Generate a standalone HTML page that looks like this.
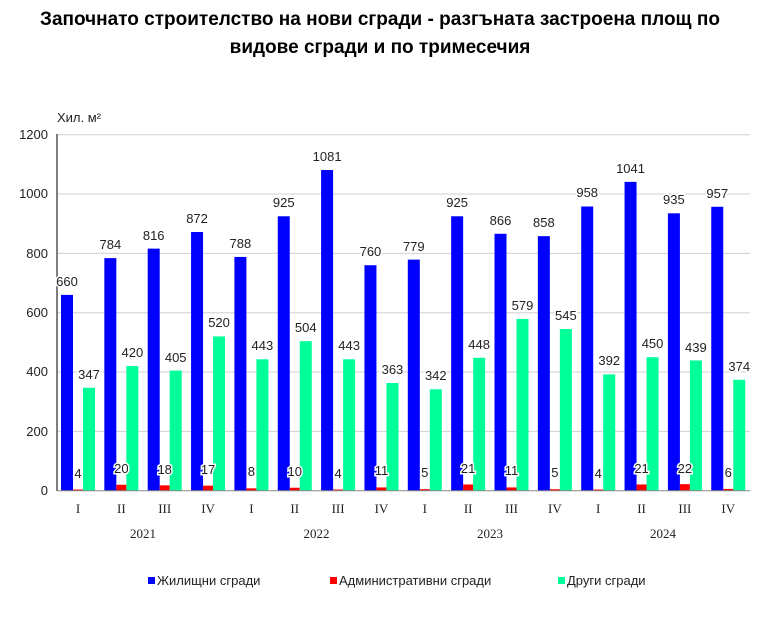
<!DOCTYPE html>
<html><head><meta charset="utf-8"><style>
body{margin:0;background:#fff;width:768px;height:629px;overflow:hidden}
svg{display:block}
.t{font-family:"Liberation Sans",sans-serif;font-weight:bold;font-size:19px;fill:#000}
.l{font-family:"Liberation Sans",sans-serif;font-size:13px;fill:#222}
.d{font-family:"Liberation Sans",sans-serif;font-size:13px;fill:#222;text-anchor:middle;paint-order:stroke;stroke:#fff;stroke-width:3px}
.q{font-family:"Liberation Serif",serif;font-size:13px;fill:#222;text-anchor:middle}
</style></head><body>
<svg width="768" height="629" xmlns="http://www.w3.org/2000/svg">
<text class="t" x="380" y="25" text-anchor="middle">Започнато строителство на нови сгради - разгъната застроена площ по</text>
<text class="t" x="380" y="53" text-anchor="middle">видове сгради и по тримесечия</text>
<text class="l" x="57" y="122">Хил. м²</text>
<g stroke="#d0d0d0" stroke-width="1">
<line x1="57" x2="750" y1="134.7" y2="134.7"/><line x1="57" x2="750" y1="194" y2="194"/><line x1="57" x2="750" y1="253.4" y2="253.4"/><line x1="57" x2="750" y1="312.7" y2="312.7"/><line x1="57" x2="750" y1="372" y2="372"/><line x1="57" x2="750" y1="431.4" y2="431.4"/>
</g>
<g class="l" text-anchor="end">
<text x="48" y="139">1200</text><text x="48" y="198">1000</text><text x="48" y="258">800</text><text x="48" y="317">600</text><text x="48" y="376">400</text><text x="48" y="436">200</text><text x="48" y="495">0</text>
</g>
<g transform="translate(0,490.7) scale(1,-0.29667)">
<g fill="#0000ff">
<rect x="61" width="12" y="0" height="660"/><rect x="104.35" width="12" height="784"/><rect x="147.7" width="12" height="816"/><rect x="191.05" width="12" height="872"/><rect x="234.4" width="12" height="788"/><rect x="277.75" width="12" height="925"/><rect x="321.1" width="12" height="1081"/><rect x="364.45" width="12" height="760"/><rect x="407.8" width="12" height="779"/><rect x="451.15" width="12" height="925"/><rect x="494.5" width="12" height="866"/><rect x="537.85" width="12" height="858"/><rect x="581.2" width="12" height="958"/><rect x="624.55" width="12" height="1041"/><rect x="667.9" width="12" height="935"/><rect x="711.25" width="12" height="957"/>
</g>
<g fill="#ff0000">
<rect x="73" width="10" height="4"/><rect x="116.35" width="10" height="20"/><rect x="159.7" width="10" height="18"/><rect x="203.05" width="10" height="17"/><rect x="246.4" width="10" height="8"/><rect x="289.75" width="10" height="10"/><rect x="333.1" width="10" height="4"/><rect x="376.45" width="10" height="11"/><rect x="419.8" width="10" height="5"/><rect x="463.15" width="10" height="21"/><rect x="506.5" width="10" height="11"/><rect x="549.85" width="10" height="5"/><rect x="593.2" width="10" height="4"/><rect x="636.55" width="10" height="21"/><rect x="679.9" width="10" height="22"/><rect x="723.25" width="10" height="6"/>
</g>
<g fill="#00ff99">
<rect x="83" width="12" height="347"/><rect x="126.35" width="12" height="420"/><rect x="169.7" width="12" height="405"/><rect x="213.05" width="12" height="520"/><rect x="256.4" width="12" height="443"/><rect x="299.75" width="12" height="504"/><rect x="343.1" width="12" height="443"/><rect x="386.45" width="12" height="363"/><rect x="429.8" width="12" height="342"/><rect x="473.15" width="12" height="448"/><rect x="516.5" width="12" height="579"/><rect x="559.85" width="12" height="545"/><rect x="603.2" width="12" height="392"/><rect x="646.55" width="12" height="450"/><rect x="689.9" width="12" height="439"/><rect x="733.25" width="12" height="374"/>
</g>
</g>
<line x1="57" x2="57" y1="134" y2="491" stroke="#555" stroke-width="1.5"/>
<line x1="57" x2="750" y1="490.7" y2="490.7" stroke="#888" stroke-width="1"/>
<g class="d">
<text x="67" y="286">660</text><text x="110.35" y="249">784</text><text x="153.7" y="240">816</text><text x="197.05" y="223">872</text><text x="240.4" y="248">788</text><text x="283.75" y="207">925</text><text x="327.1" y="161">1081</text><text x="370.45" y="256">760</text><text x="413.8" y="251">779</text><text x="457.15" y="207">925</text><text x="500.5" y="225">866</text><text x="543.85" y="227">858</text><text x="587.2" y="197">958</text><text x="630.55" y="173">1041</text><text x="673.9" y="204">935</text><text x="717.25" y="198">957</text>
<text x="78" y="478">4</text><text x="121.35" y="473">20</text><text x="164.7" y="474">18</text><text x="208.05" y="474">17</text><text x="251.4" y="476">8</text><text x="294.75" y="476">10</text><text x="338.1" y="478">4</text><text x="381.45" y="475">11</text><text x="424.8" y="477">5</text><text x="468.15" y="473">21</text><text x="511.5" y="475">11</text><text x="554.85" y="477">5</text><text x="598.2" y="478">4</text><text x="641.55" y="473">21</text><text x="684.9" y="473">22</text><text x="728.25" y="477">6</text>
<text x="89" y="379">347</text><text x="132.35" y="357">420</text><text x="175.7" y="362">405</text><text x="219.05" y="327">520</text><text x="262.4" y="350">443</text><text x="305.75" y="332">504</text><text x="349.1" y="350">443</text><text x="392.45" y="374">363</text><text x="435.8" y="380">342</text><text x="479.15" y="349">448</text><text x="522.5" y="310">579</text><text x="565.85" y="320">545</text><text x="609.2" y="365">392</text><text x="652.55" y="348">450</text><text x="695.9" y="352">439</text><text x="739.25" y="371">374</text>
</g>
<g class="q">
<text x="78" y="513">I</text><text x="121.35" y="513">II</text><text x="164.7" y="513">III</text><text x="208.05" y="513">IV</text><text x="251.4" y="513">I</text><text x="294.75" y="513">II</text><text x="338.1" y="513">III</text><text x="381.45" y="513">IV</text><text x="424.8" y="513">I</text><text x="468.15" y="513">II</text><text x="511.5" y="513">III</text><text x="554.85" y="513">IV</text><text x="598.2" y="513">I</text><text x="641.55" y="513">II</text><text x="684.9" y="513">III</text><text x="728.25" y="513">IV</text>
<text x="143" y="538">2021</text><text x="316.5" y="538">2022</text><text x="490" y="538">2023</text><text x="663" y="538">2024</text>
</g>
<rect x="148" y="577" width="7" height="7" fill="#0000ff"/><text class="l" x="157" y="585">Жилищни сгради</text>
<rect x="330" y="577" width="7" height="7" fill="#ff0000"/><text class="l" x="339" y="585">Административни сгради</text>
<rect x="558" y="577" width="7" height="7" fill="#00ff99"/><text class="l" x="567" y="585">Други сгради</text>
</svg>
</body></html>
